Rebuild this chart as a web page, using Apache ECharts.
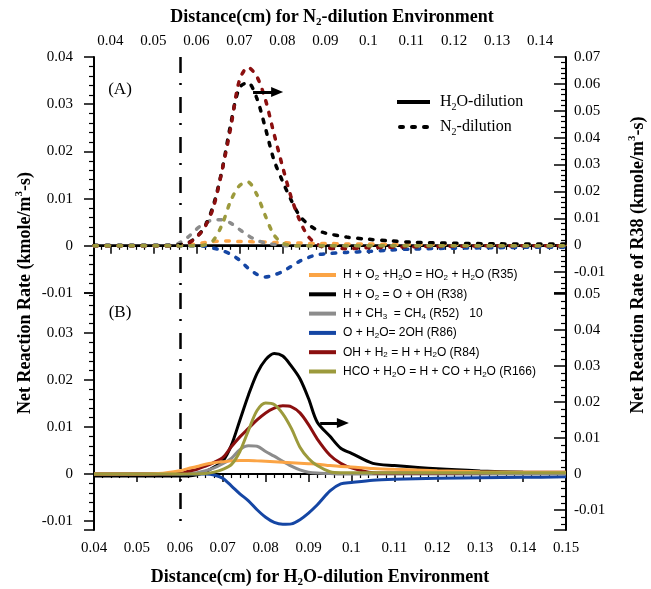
<!DOCTYPE html>
<html><head><meta charset="utf-8">
<script src="https://cdn.jsdelivr.net/npm/echarts@6/dist/echarts.min.js"></script>
<style>html,body{margin:0;padding:0;background:#fff}#c{width:651px;height:589px}</style>
</head><body><div id="c"></div>
<script>
// ---------- Panel (A): N2-dilution (top axis) ----------
const xN2   = [0.0362,0.045,0.052,0.055,0.058,0.06,0.062,0.064,0.066,0.068,0.07,0.072,0.074,0.076,0.078,0.08,0.082,0.084,0.086,0.088,0.09,0.095,0.1,0.105,0.11,0.12,0.13,0.14,0.146];
const r35N2 = [0,0,0,0,0.0002,0.0004,0.0007,0.0009,0.001,0.001,0.0009,0.0009,0.0008,0.0008,0.0007,0.0007,0.0006,0.0006,0.0005,0.0005,0.0005,0.0004,0.0004,0.0003,0.0003,0.0003,0.0002,0.0002,0.0002];
const r38N2 = [0,0,0,0,0.0009,0.003,0.007,0.015,0.028,0.045,0.0585,0.0605,0.055,0.044,0.032,0.024,0.017,0.011,0.0078,0.0057,0.0045,0.003,0.0022,0.0016,0.0011,0.0007,0.0005,0.0004,0.0004];
const r52N2 = [0,0,0,0.0002,0.0018,0.0035,0.0048,0.0055,0.0055,0.0048,0.0035,0.0022,0.0012,0.0006,0.0003,0.0001,0,0,0,0,0,0,0,0,0,0,0,0,0];
const r86N2 = [0,0,0,0,0,0,-0.0001,-0.0005,-0.001,-0.0018,-0.003,-0.0047,-0.006,-0.0066,-0.0062,-0.0055,-0.0044,-0.0033,-0.0025,-0.0019,-0.0017,-0.0014,-0.0012,-0.0009,-0.0007,-0.0005,-0.0004,-0.0003,-0.0003];
const r84N2 = [0,0,0,0,0.0005,0.0018,0.004,0.0082,0.016,0.025,0.035,0.0378,0.036,0.0312,0.024,0.017,0.0105,0.0055,0.002,0.0004,-0.0004,-0.0006,-0.0004,-0.0003,-0.0002,-0.0001,0,0,0];
const r166N2= [0,0,0,0,0,0,0.0002,0.0012,0.0045,0.0095,0.0127,0.0135,0.011,0.0065,0.0024,0.0006,0.0001,0,0,0,0,0,0,0,0,0,0,0,0];

// ---------- Panel (B): H2O-dilution (bottom axis) ----------
const xH2O   = [0.04,0.05,0.055,0.06,0.062,0.064,0.066,0.068,0.07,0.072,0.074,0.076,0.078,0.08,0.082,0.084,0.086,0.088,0.09,0.092,0.095,0.0975,0.1,0.105,0.11,0.12,0.13,0.14,0.15];
const r35H2O = [0,0,0.0001,0.0007,0.0012,0.0016,0.0021,0.0024,0.0026,0.0028,0.0029,0.0029,0.0028,0.0027,0.0026,0.0025,0.0024,0.0023,0.0022,0.0021,0.0018,0.0016,0.0015,0.0012,0.001,0.0007,0.0005,0.0004,0.0004];
const r38H2O = [-0.0005,-0.0005,-0.0005,-0.0005,-0.0005,-0.0002,0.0007,0.002,0.0036,0.008,0.015,0.022,0.028,0.0318,0.0335,0.0328,0.030,0.0265,0.021,0.0145,0.0105,0.0072,0.0058,0.003,0.0024,0.0015,0.0009,0.0005,0.0003];
const r52H2O = [0,0,0,0,0.0001,0.0003,0.0007,0.0013,0.0022,0.0033,0.0052,0.006,0.0059,0.0048,0.0038,0.0027,0.0017,0.0009,0.0004,0.0002,0.0001,0,0,0,0,0,0,0,0];
const r86H2O = [0,0,0,0,0,0,0,-0.0002,-0.0009,-0.0025,-0.0042,-0.0057,-0.0076,-0.0092,-0.0103,-0.0107,-0.0106,-0.0097,-0.0083,-0.0066,-0.0036,-0.0021,-0.0018,-0.0013,-0.0011,-0.0009,-0.0008,-0.0007,-0.0006];
const r84H2O = [0,0,0,0.0001,0.0006,0.001,0.0017,0.0025,0.0035,0.0058,0.0079,0.0097,0.0115,0.013,0.014,0.0145,0.0143,0.013,0.0105,0.0075,0.004,0.0023,0.0013,0.0003,0.0002,0.0002,0.0003,0.0004,0.0004];
const r166H2O= [0,0,0,0,0,0,0.0001,0.0004,0.001,0.002,0.0048,0.0093,0.0135,0.0151,0.0148,0.0128,0.0097,0.0057,0.0033,0.0018,0.0005,0.0003,0.0003,0.0003,0.0003,0.0003,0.0003,0.0003,0.0003];

// axis ranges
const xTopRange = [0.0362, 0.146], xBotRange = [0.04, 0.15];
const yLeftA = [-0.01, 0.04], yRightA = [-0.0178, 0.07];
const yLeftB = [-0.0119, 0.0385], yRightB = [-0.0155, 0.0503];

// annotations (data coordinates)
const vLineN2 = 0.0562, vLineH2O = 0.06;
const arrowA = [[0.0732, 0.057], [0.0788, 0.057]];
const arrowB = [[0.0927, 0.0142], [0.098, 0.0142]];

const legendNames = ['R35','R38','R52','R86','R84','R166'];
const legendTexts = {
  R35: 'H + O{s|2} +H{s|2}O = HO{s|2} + H{s|2}O (R35)',
  R38: 'H + O{s|2} = O + OH (R38)',
  R52: 'H + CH{s|3}  = CH{s|4} (R52)   10',
  R86: 'O + H{s|2}O= 2OH (R86)',
  R84: 'OH + H{s|2} = H + H{s|2}O (R84)',
  R166:'HCO + H{s|2}O = H + CO + H{s|2}O (R166)'
};

const C = {R35:'#FBA445', R38:'#000000', R52:'#8C8C8C', R86:'#1546A4', R84:'#8B0F0F', R166:'#9C9A3C'};
const SERIF = '"Liberation Serif","Times New Roman",serif';
const SANS = '"Liberation Sans",Arial,sans-serif';

function pairs(xs, ys){ return xs.map((x,i)=>[x, ys[i]]); }
function line(name, key, xs, ys, xi, yi, dashed, extra){
  return Object.assign({
    name: name, type:'line', xAxisIndex:xi, yAxisIndex:yi, data:pairs(xs,ys),
    showSymbol:false, symbol:'none', smooth:0.3, color:C[key],
    lineStyle: dashed ? {color:C[key], width:3.5, type:[3.5,8.5], cap:'round'} : {color:C[key], width:3},
    emphasis:{disabled:true}, silent:true
  }, extra||{});
}
const vStyle = {color:'#000', width:2.5, type:[16,10,2,12], cap:'butt'};
function vMark(v, yr){ return {silent:true, symbol:['none','none'], label:{show:false}, lineStyle:vStyle,
  data:[[{coord:[v, yr[1]]},{coord:[v, yr[0]]}]]}; }
function arrowMark(a){ return {silent:true, symbol:['none','triangle'], symbolSize:[10,12], label:{show:false},
  lineStyle:{color:'#000', width:3, type:'solid'}, itemStyle:{color:'#000'},
  data:[[{coord:a[0]},{coord:a[1]}]]}; }

const axisLine = {show:true, lineStyle:{color:'#000', width:2}};
const lab = {color:'#000', fontFamily:SERIF, fontSize:15};

const series = [
  // panel A (dashed, N2-dilution)
  line('R35 N2','R35', xN2, r35N2, 0, 0, true, {markLine: vMark(vLineN2, yLeftA)}),
  line('R86 N2','R86', xN2, r86N2, 0, 0, true),
  line('R52 N2','R52', xN2, r52N2, 0, 0, true),
  line('R38 N2','R38', xN2, r38N2, 0, 1, true, {markLine: arrowMark(arrowA)}),
  line('R84 N2','R84', xN2, r84N2, 0, 0, true),
  line('R166 N2','R166', xN2, r166N2, 0, 0, true),
  // panel B (solid, H2O-dilution)
  line('R38','R38', xH2O, r38H2O, 2, 3, false, {markLine: arrowMark(arrowB)}),
  line('R86','R86', xH2O, r86H2O, 2, 2, false),
  line('R52','R52', xH2O, r52H2O, 2, 2, false),
  line('R84','R84', xH2O, r84H2O, 2, 2, false),
  line('R35','R35', xH2O, r35H2O, 2, 2, false, {markLine: vMark(vLineH2O, yLeftB)}),
  line('R166','R166', xH2O, r166H2O, 2, 2, false),
  // style legend entries
  {name:'H2O-dilution', type:'line', xAxisIndex:0, yAxisIndex:0, data:[], symbol:'none', color:'#000', lineStyle:{color:'#000', width:3.5}},
  {name:'N2-dilution', type:'line', xAxisIndex:0, yAxisIndex:0, data:[], symbol:'none', color:'#000', lineStyle:{color:'#000', width:4, type:[3.5,8.5], cap:'round'}}
];

const titleRich = {
  sub:{fontSize:11, lineHeight:12, verticalAlign:'bottom', fontWeight:'bold', fontFamily:SERIF, fill:'#000', color:'#000'},
  sup:{fontSize:11, lineHeight:12, verticalAlign:'top', fontWeight:'bold', fontFamily:SERIF, fill:'#000', color:'#000'}
};
function gText(text, x, y, opts){
  return Object.assign({type:'text', x:x, y:y, silent:true, style:Object.assign({
    text:text, fill:'#000', fontFamily:SERIF, fontSize:18, fontWeight:'bold', lineHeight:22,
    textAlign:'center', textVerticalAlign:'middle', align:'center', verticalAlign:'middle', rich:titleRich
  }, (opts&&opts.style)||{})}, opts&&opts.el||{});
}

const tickStyle = {color:'#000', width:1.5}, minorStyle = {color:'#000', width:1.2};
const option = {
  animation:false,
  backgroundColor:'#fff',
  grid:[{left:94, top:57, width:472, height:236}, {left:94, top:293, width:472, height:237}],
  xAxis:[
    {gridIndex:0, type:'value', position:'top', min:xTopRange[0], max:xTopRange[1], splitNumber:11,
     axisLine:axisLine, axisTick:{inside:true, length:8, lineStyle:tickStyle},
     minorTick:{show:true, splitNumber:5, length:4, lineStyle:minorStyle},
     splitLine:{show:false}, axisLabel:Object.assign({margin:8, showMinLabel:false, showMaxLabel:false}, lab)},
    {gridIndex:0, type:'value', position:'bottom', min:xTopRange[0], max:xTopRange[1],
     axisLine:{show:true, lineStyle:{color:'#000', width:1.5}}, axisTick:{show:false}, axisLabel:{show:false}, splitLine:{show:false}},
    {gridIndex:1, type:'value', position:'bottom', min:xBotRange[0], max:xBotRange[1], interval:0.01,
     axisLine:axisLine, axisTick:{inside:false, length:8, lineStyle:tickStyle},
     minorTick:{show:true, splitNumber:5, length:4, lineStyle:minorStyle},
     splitLine:{show:false}, axisLabel:Object.assign({margin:11}, lab)}
  ],
  yAxis:[
    {gridIndex:0, type:'value', position:'left', min:yLeftA[0], max:yLeftA[1], interval:0.01,
     axisLine:axisLine, axisTick:{inside:false, length:10, lineStyle:tickStyle},
     minorTick:{show:true, splitNumber:5, length:5, lineStyle:minorStyle},
     splitLine:{show:false}, axisLabel:Object.assign({margin:21}, lab)},
    {gridIndex:0, type:'value', position:'right', min:yRightA[0], max:yRightA[1], splitNumber:9,
     axisLine:axisLine, axisTick:{inside:true, length:12, lineStyle:tickStyle},
     minorTick:{show:true, splitNumber:5, length:5, lineStyle:minorStyle},
     splitLine:{show:false}, axisLabel:Object.assign({margin:8, showMinLabel:false}, lab)},
    {gridIndex:1, type:'value', position:'left', min:yLeftB[0], max:yLeftB[1], splitNumber:5,
     axisLine:axisLine, axisTick:{inside:false, length:10, lineStyle:tickStyle},
     minorTick:{show:true, splitNumber:5, length:5, lineStyle:minorStyle},
     splitLine:{show:false}, axisLabel:Object.assign({margin:21, showMinLabel:false, showMaxLabel:false}, lab)},
    {gridIndex:1, type:'value', position:'right', min:yRightB[0], max:yRightB[1], splitNumber:6,
     axisLine:axisLine, axisTick:{inside:true, length:12, lineStyle:tickStyle},
     minorTick:{show:true, splitNumber:5, length:5, lineStyle:minorStyle},
     splitLine:{show:false}, axisLabel:Object.assign({margin:8, showMinLabel:false, showMaxLabel:false}, lab)}
  ],
  legend:[
    {data:legendNames, orient:'vertical', left:306, top:264, icon:'rect', itemWidth:27, itemHeight:4, itemGap:5.3,
     padding:[4,4,4,3], backgroundColor:'#fff', selectedMode:false,
     formatter:n=>legendTexts[n],
     textStyle:{color:'#000', fontFamily:SANS, fontSize:12, lineHeight:14, padding:[0,0,0,2],
       rich:{s:{fontFamily:SANS, fontSize:8, lineHeight:8, verticalAlign:'bottom', color:'#000'}}}},
    {data:[{name:'H2O-dilution', icon:'rect'},
           {name:'N2-dilution', icon:'path://M2,0h3a2,2 0 0 1 0,4h-3a2,2 0 0 1 0,-4z M14,0h3a2,2 0 0 1 0,4h-3a2,2 0 0 1 0,-4z M26,0h3a2,2 0 0 1 0,4h-3a2,2 0 0 1 0,-4z'}],
     orient:'vertical', left:397, top:92, itemWidth:33, itemHeight:4, itemGap:5,
     padding:0, selectedMode:false,
     formatter:n=> n==='H2O-dilution' ? 'H{s|2}O-dilution' : 'N{s|2}-dilution',
     textStyle:{color:'#000', fontFamily:SERIF, fontSize:16, lineHeight:20, padding:[0,0,0,5],
       rich:{s:{fontFamily:SERIF, fontSize:10, lineHeight:12, verticalAlign:'bottom', color:'#000'}}}}
  ],
  graphic:[
    gText('Distance(cm) for N{sub|2}-dilution Environment', 332, 17),
    gText('Distance(cm) for H{sub|2}O-dilution Environment', 320, 577),
    gText('Net Reaction Rate (kmole/m{sup|3}-s)', 25, 293, {el:{rotation:Math.PI/2}}),
    gText('Net Reaction Rate of R38 (kmole/m{sup|3}-s)', 638, 265, {el:{rotation:Math.PI/2}}),
    gText('(A)', 120, 90, {style:{fontWeight:'normal', fontSize:17}}),
    gText('(B)', 120, 313, {style:{fontWeight:'normal', fontSize:17}})
  ],
  series: series
};
const chart = echarts.init(document.getElementById('c'), null, {renderer:'canvas'});
chart.setOption(option);
</script></body></html>
